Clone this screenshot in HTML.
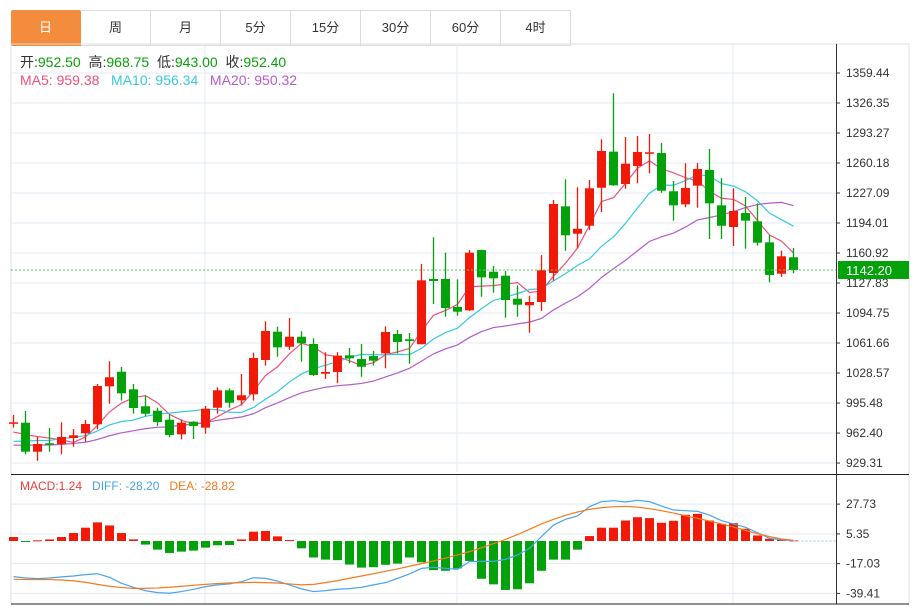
<!DOCTYPE html>
<html><head><meta charset="utf-8"><style>
body{margin:0;background:#fff;width:920px;height:606px;overflow:hidden;font-family:"Liberation Sans","Noto Sans CJK SC",sans-serif}
.tab{position:absolute;top:10px;height:34px;width:69px;border:1px solid #dcdcdc;border-left:none;line-height:34px;text-align:center;font-size:13px;color:#333;box-sizing:content-box}
</style></head><body>
<div style="position:absolute;left:11px;top:0;width:900px;height:45px;">
</div>
<div class="tab" style="left:11px;background:#f48c3e;color:#fff;border-color:#f48c3e;border-radius:2px 2px 0 0">日</div>
<div class="tab" style="left:81px">周</div>
<div class="tab" style="left:151px">月</div>
<div class="tab" style="left:221px">5分</div>
<div class="tab" style="left:291px">15分</div>
<div class="tab" style="left:361px">30分</div>
<div class="tab" style="left:431px">60分</div>
<div class="tab" style="left:501px">4时</div>
<svg id="chart" width="920" height="606" style="position:absolute;left:0;top:0" xmlns="http://www.w3.org/2000/svg" font-family="Liberation Sans, Noto Sans CJK SC, sans-serif"></svg>
<script>
const opens=[972.7,973.8,941.8,951.1,950.3,956.9,962.1,972.0,1013.9,1030.0,1010.6,991.9,987.0,977.1,961.0,974.9,968.3,990.3,1009.5,998.5,1005.1,1042.9,1074.1,1057.6,1068.6,1060.6,1027.8,1029.7,1048.1,1044.0,1047.3,1050.3,1071.6,1065.8,1060.3,1132.3,1132.3,1101.4,1097.7,1164.2,1140.3,1135.9,1110.5,1103.3,1106.9,1138.9,1212.4,1182.2,1191.0,1232.9,1272.7,1237.0,1256.9,1270.4,1271.2,1229.0,1214.6,1235.2,1252.5,1213.5,1189.6,1205.0,1195.9,1172.7,1138.1,1156.2];
const highs=[982.3,986.7,958.4,967.9,974.2,966.8,976.8,1016.5,1041.5,1035.2,1016.5,1003.6,990.3,983.1,977.5,975.5,992.2,1012.8,1011.7,1027.5,1051.0,1085.6,1079.7,1089.3,1074.6,1066.9,1051.4,1051.4,1056.2,1060.6,1052.9,1080.1,1076.0,1072.7,1148.8,1178.3,1161.3,1131.9,1164.2,1164.7,1146.6,1141.1,1125.3,1113.8,1158.7,1219.4,1242.2,1233.4,1241.4,1286.3,1337.1,1288.9,1290.0,1292.2,1282.2,1240.3,1259.9,1260.2,1275.6,1243.6,1232.3,1222.7,1215.7,1180.8,1163.5,1166.5];
const lows=[968.3,938.9,931.9,941.8,938.9,947.3,952.8,966.5,994.7,998.1,983.7,980.8,970.2,957.7,955.5,955.8,961.7,983.7,990.3,993.0,998.1,1036.7,1046.6,1054.0,1041.1,1025.3,1022.0,1017.2,1039.3,1024.5,1036.7,1033.8,1050.3,1038.9,1060.3,1104.7,1090.7,1091.8,1097.0,1112.7,1117.2,1089.6,1090.7,1073.0,1097.0,1130.4,1163.5,1166.1,1186.3,1206.2,1235.0,1231.8,1237.8,1248.8,1227.4,1196.6,1211.3,1210.9,1176.4,1176.4,1168.7,1165.7,1169.0,1128.6,1134.5,1138.6];
const closes=[974.2,941.8,950.3,950.0,958.0,959.9,972.4,1014.3,1023.9,1006.2,990.0,983.7,974.6,960.2,973.8,970.2,989.2,1009.5,995.8,1004.0,1045.1,1074.9,1056.9,1068.6,1061.4,1026.4,1029.7,1047.7,1044.8,1035.5,1042.2,1073.8,1062.8,1063.9,1130.8,1130.1,1100.3,1096.2,1161.3,1134.1,1133.0,1109.1,1103.9,1106.9,1141.9,1215.0,1180.5,1187.7,1232.3,1273.4,1235.6,1259.4,1272.3,1272.0,1229.6,1213.5,1232.6,1253.6,1215.7,1191.0,1207.3,1196.6,1172.3,1136.7,1157.3,1142.2];
const priorCloses=[948,942,950,944,940,946,952,943,941,944,938,945,948,940,944,955,962,958,968];
const priceTicks=[1359.44,1326.35,1293.27,1260.18,1227.09,1194.01,1160.92,1127.83,1094.75,1061.66,1028.57,995.48,962.40,929.31];
const macdHist=[3.0,-0.5,0.5,1.2,3.0,6.0,10,14,11.7,6,1.2,-2.7,-6.5,-9,-8,-7.2,-5,-3.2,-3,1.2,7,7.5,3.5,0.7,-5.5,-12.4,-14,-14.4,-17.7,-20,-19.7,-17.9,-17,-12.4,-16,-21.9,-22.4,-20.6,-15,-28.4,-32.6,-36.8,-36.3,-31.8,-22.4,-14,-14,-6.5,3.7,10,10,15.4,17.9,17.2,13.7,15.2,19.7,20.4,15.4,12.9,13.4,9.2,4.2,1.7,1.5,0.5];
const diffVals=[-26.8,-27.8,-28.3,-27.8,-27,-26.3,-25.3,-24.6,-27.3,-31.8,-34.8,-37.3,-38.8,-39.3,-38,-36.3,-34.3,-33,-32.3,-30.6,-27.6,-28.1,-30.1,-33,-36,-38,-37.3,-36.3,-35.8,-34.8,-33,-31.3,-28.1,-24.8,-20.6,-19.8,-20.6,-21.3,-15.5,-15.3,-15.3,-13.8,-10.5,-5.5,3.3,12,16.3,18.8,25.8,29.6,30.3,29.3,30.6,29.6,26.3,23.3,22.8,22.3,19.5,15.3,12.8,10.3,6.3,2,0.8,0.3];
const deaVals=[-28.8,-29,-29,-29,-29.3,-30,-31,-32.6,-34,-35,-35.6,-35.6,-35.3,-34.8,-34,-33.3,-32.6,-32,-31.6,-31.3,-31.1,-31.3,-31.6,-32.3,-33,-32.6,-31.3,-29.8,-28,-26.3,-24.6,-22.8,-21,-19,-17,-15,-12.8,-10.5,-8,-5,-2,1.2,4.8,8.8,12.8,16.3,19.3,21.8,23.8,25,25.8,26,25.5,24.3,22.8,21,19,17,15,12.8,10.5,8,5.5,3.3,1.5,0.5];
const macdTicks=[27.73,5.35,-17.03,-39.41];
const lastPrice=1142.20;

const svg=document.getElementById('chart');
const NS='http://www.w3.org/2000/svg';
function mk(tag,attrs,parent){const e=document.createElementNS(NS,tag);for(const k in attrs)e.setAttribute(k,attrs[k]);(parent||svg).appendChild(e);return e;}
const yP=p=>73+(1359.44-p)/1.1028;
const xI=i=>13.5+12*i;
const yM=v=>541-v*1.33;
const RED='#f11a08',GREEN='#03a20b';

const g=mk('g',{});


mk('line',{x1:11,y1:44,x2:11,y2:604,stroke:'#dcdcdc'},g);
mk('line',{x1:909,y1:44,x2:909,y2:604,stroke:'#dcdcdc'},g);
mk('line',{x1:11,y1:44,x2:909,y2:44,stroke:'#dcdcdc'},g);
[205,457,733].forEach(x=>{mk('line',{x1:x,y1:44,x2:x,y2:472,stroke:'#e3eaf1'},g);mk('line',{x1:x,y1:475,x2:x,y2:603,stroke:'#e3eaf1'},g);});
priceTicks.forEach(t=>{const y=yP(t);mk('line',{x1:11,y1:y,x2:836,y2:y,stroke:'#e3eaf1'},g);
 mk('line',{x1:836,y1:y,x2:840,y2:y,stroke:'#333'},g);
 const tx=mk('text',{x:846,y:y+4,'font-size':12,fill:'#333'});tx.textContent=t.toFixed(2);
 
 });
macdTicks.forEach(t=>{const y=yM(t);mk('line',{x1:11,y1:y,x2:836,y2:y,stroke:'#e3eaf1'},g);
 mk('line',{x1:836,y1:y,x2:840,y2:y,stroke:'#333'},g);
 const tx=mk('text',{x:846,y:y+4,'font-size':12,fill:'#333'});tx.textContent=t.toFixed(2);
 
 });
mk('line',{x1:836.5,y1:44,x2:836.5,y2:604,stroke:'#333'},g);
mk('line',{x1:11,y1:474.5,x2:909,y2:474.5,stroke:'#222'},g);
mk('line',{x1:11,y1:604,x2:909,y2:604,stroke:'#222'},g);

const all=priorCloses.concat(closes);
function ma(n){return closes.map((c,i)=>{let s=0;for(let k=0;k<n;k++)s+=all[priorCloses.length+i-k];return s/n;});}
[[5,'#f0507a','ma5-line'],[10,'#36c8e2','ma10-line'],[20,'#b45cc8','ma20-line']].forEach(([n,col,name])=>{
 const m=ma(n);const pl=mk('polyline',{points:m.map((v,i)=>xI(i)+','+yP(v)).join(' '),fill:'none',stroke:col,'stroke-width':1.2});
 
 });

closes.forEach((c,i)=>{const o=opens[i],up=c>=o,col=up?RED:GREEN,x=xI(i);
 const cg=mk('g',{});
 
 
 mk('line',{x1:x,y1:yP(highs[i]),x2:x,y2:yP(lows[i]),stroke:col,'stroke-width':1.3},cg);
 const t=yP(Math.max(o,c)),b=yP(Math.min(o,c));
 mk('rect',{x:x-4.5,y:t,width:9,height:Math.max(1.5,b-t),fill:col},cg);});

const ly=yP(lastPrice);
mk('line',{x1:11,y1:ly,x2:836,y2:ly,stroke:'#5cc85c','stroke-dasharray':'2,2'});
const lb=mk('rect',{x:838,y:ly-9,width:71,height:18,fill:'#03a20b'});


const lt=mk('text',{x:846,y:ly+5,'font-size':13,fill:'#fff'});lt.textContent=lastPrice.toFixed(2);

macdHist.forEach((v,i)=>{const x=xI(i),y0=yM(0),y1=yM(v);
 const r=mk('rect',{x:x-4.5,y:Math.min(y0,y1),width:9,height:Math.max(1,Math.abs(y1-y0)),fill:v>=0?RED:GREEN});
 
 });
mk('line',{x1:xI(macdHist.length-1),y1:yM(0),x2:836,y2:yM(0),stroke:'#9cc8e8','stroke-dasharray':'2,2'});
const dl=mk('polyline',{points:diffVals.map((v,i)=>xI(i)+','+yM(v)).join(' '),fill:'none',stroke:'#4aa3ee','stroke-width':1.2});


const el=mk('polyline',{points:deaVals.map((v,i)=>xI(i)+','+yM(v)).join(' '),fill:'none',stroke:'#f57a1e','stroke-width':1.2});



function txt(x,y,parts,size,name){const t=mk('text',{x:x,y:y,'font-size':size});
 parts.forEach(([s,c])=>{const sp=mk('tspan',{fill:c},t);sp.textContent=s;});}
const K='#333',G='#0aa00a';
txt(20,67,[['开:',K],['952.50',G],['  高:',K],['968.75',G],['  低:',K],['943.00',G],['  收:',K],['952.40',G]],14,'ohlc-info');
txt(20,85,[['MA5: 959.38',"#f0507a"],['   MA10: 956.34','#36c8e2'],['   MA20: 950.32','#b45cc8']],14,'ma-legend');
txt(20,490,[['MACD:1.24','#f03b3b'],['   DIFF: -28.20','#4aa3ee'],['   DEA: -28.82','#f57a1e']],12,'macd-legend');
svg.querySelectorAll('tspan').forEach(s=>s.setAttribute('xml:space','preserve'));
svg.querySelectorAll('text').forEach(s=>s.setAttribute('style','white-space:pre'));
</script>
</body></html>
